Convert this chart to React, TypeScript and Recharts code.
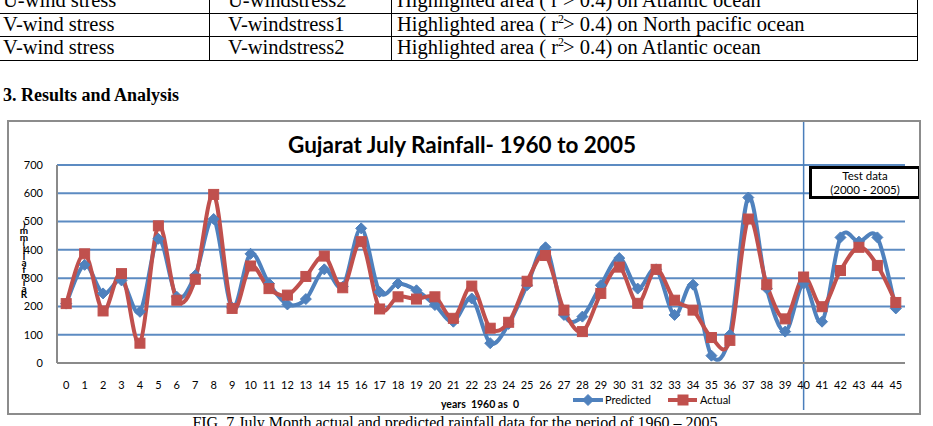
import React from "react";
import { LineChart, Line, XAxis, YAxis, CartesianGrid, ReferenceLine } from "recharts";

const years = [0, 1, 2, 3, 4, 5, 6, 7, 8, 9, 10, 11, 12, 13, 14, 15, 16, 17, 18, 19, 20, 21, 22, 23, 24, 25, 26, 27, 28, 29, 30, 31, 32, 33, 34, 35, 36, 37, 38, 39, 40, 41, 42, 43, 44, 45];
const predicted = [210, 347, 246, 292, 181, 439, 234, 310, 509, 195, 386, 281, 207, 226, 331, 270, 476, 251, 281, 257, 205, 146, 228, 70, 138, 275, 409, 170, 164, 275, 371, 263, 331, 170, 277, 26, 100, 585, 263, 111, 281, 146, 444, 429, 444, 193];
const actual = [210, 386, 184, 316, 70, 485, 222, 296, 596, 193, 343, 263, 240, 306, 378, 266, 429, 191, 234, 226, 234, 158, 272, 123, 144, 289, 380, 187, 111, 246, 339, 211, 331, 222, 187, 90, 80, 509, 277, 156, 304, 199, 327, 409, 345, 214];
const yTicks = [0, 100, 200, 300, 400, 500, 600, 700];
const seriesNames = ["Predicted", "Actual"];
const testYear = 40;

const tableRows = [
  ["U-wind stress", "U-windstress2", "Atlantic ocean"],
  ["V-wind stress", "V-windstress1", "North pacific ocean"],
  ["V-wind stress", "V-windstress2", "Atlantic ocean"],
];

const data = years.map((y, i) => ({ year: y, predicted: predicted[i], actual: actual[i] }));

const BLUE = "#4f81bd";
const RED = "#c0504d";
const GRID = "#4a7ebb";

// Excel-like smoothed line (Catmull-Rom through points)
function excelCurve(context: any) {
  let pts: number[][] = [];
  return {
    areaStart() {},
    areaEnd() {},
    lineStart() {
      pts = [];
    },
    point(x: number, y: number) {
      pts.push([+x, +y]);
    },
    lineEnd() {
      const n = pts.length;
      if (!n) return;
      context.moveTo(pts[0][0], pts[0][1]);
      for (let i = 0; i < n - 1; i++) {
        const p0 = pts[i - 1] || pts[i];
        const p1 = pts[i];
        const p2 = pts[i + 1];
        const p3 = pts[i + 2] || p2;
        context.bezierCurveTo(
          p1[0] + (p2[0] - p0[0]) / 6,
          p1[1] + (p2[1] - p0[1]) / 6,
          p2[0] - (p3[0] - p1[0]) / 6,
          p2[1] - (p3[1] - p1[1]) / 6,
          p2[0],
          p2[1]
        );
      }
    },
  };
}

const Diamond = (props: any) => {
  const { cx, cy } = props;
  if (cx == null || cy == null) return null;
  const s = 5.5;
  return <path d={`M${cx},${cy - s}L${cx + s},${cy}L${cx},${cy + s}L${cx - s},${cy}Z`} fill={BLUE} stroke={BLUE} strokeWidth={1} />;
};

const Square = (props: any) => {
  const { cx, cy } = props;
  if (cx == null || cy == null) return null;
  const s = 5;
  return <rect x={cx - s} y={cy - s} width={2 * s} height={2 * s} fill={RED} stroke={RED} strokeWidth={1} />;
};

const serif = "'Liberation Serif', 'DejaVu Serif', serif";
const sans = "Lato, 'Open Sans', 'Liberation Sans', sans-serif";

export default function App() {
  const ylabel = "Rainfall(mm)".split("").reverse();
  return (
    <div style={{ position: "absolute", left: 0, top: 0, width: 933, height: 426, overflow: "hidden", background: "#fff" }}>
      {/* table */}
      <div style={{ position: "absolute", left: 0, top: -11, width: 918, fontFamily: serif, fontSize: 20.5, color: "#000" }}>
        {tableRows.map((r, i) => (
          <div key={i} style={{ position: "absolute", left: 0, top: i * 23.5, width: 918, height: 23.5, borderBottom: "1px solid #000" }}>
            <div style={{ position: "absolute", left: 3, top: 0, whiteSpace: "nowrap" }}>{r[0]}</div>
            <div style={{ position: "absolute", left: 209, top: 0, height: 23.5, borderLeft: "1px solid #000" }} />
            <div style={{ position: "absolute", left: 228, top: 0, whiteSpace: "nowrap" }}>{r[1]}</div>
            <div style={{ position: "absolute", left: 391, top: 0, height: 23.5, borderLeft: "1px solid #000" }} />
            <div style={{ position: "absolute", left: 397, top: 0, whiteSpace: "nowrap" }}>
              Highlighted area ( r<span style={{ fontSize: 12, position: "relative", top: -8, marginRight: -1 }}>2</span>&gt; 0.4) on {r[2]}
            </div>
            <div style={{ position: "absolute", left: 917, top: 0, height: 23.5, borderLeft: "1px solid #000" }} />
          </div>
        ))}
      </div>
      {/* heading */}
      <div style={{ position: "absolute", left: 3, top: 85, fontFamily: serif, fontSize: 18, fontWeight: "bold", whiteSpace: "nowrap" }}>
        3. Results and Analysis
      </div>

      {/* chart */}
      <div style={{ position: "absolute", left: 7, top: 120, width: 914, height: 295 }}>
        <LineChart width={914} height={295} data={data} margin={{ top: 45, right: 16, left: 0, bottom: 22 }}>
          <CartesianGrid horizontal={true} vertical={false} stroke={GRID} strokeWidth={2} strokeOpacity={0.9} />
          <XAxis
            dataKey="year"
            type="category"
            interval={0}
            height={30}
            padding={{ left: 9.2, right: 9.2 }}
            tickLine={false}
            tickSize={0}
            tickMargin={18}
            axisLine={{ stroke: "#8a8a8a", strokeWidth: 2 }}
            tick={{ fontSize: 11, fill: "#000", fontFamily: sans }}
          />
          <YAxis
            domain={[0, 700]}
            ticks={yTicks}
            interval={0}
            width={50}
            tickLine={false}
            tickSize={0}
            tickMargin={14}
            axisLine={{ stroke: "#8a8a8a", strokeWidth: 2 }}
            tick={{ fontSize: 11, fill: "#000", fontFamily: sans }}
          />
          <ReferenceLine
            segment={[{ x: testYear, y: 859 }, { x: testYear, y: -166 }]}
            stroke={GRID}
            strokeWidth={1.5}
            ifOverflow="visible"
          />
          <Line
            dataKey="predicted"
            name={seriesNames[0]}
            type={excelCurve as any}
            stroke={BLUE}
            strokeWidth={4}
            dot={<Diamond />}
            activeDot={false}
            isAnimationActive={false}
          />
          <Line
            dataKey="actual"
            name={seriesNames[1]}
            type={excelCurve as any}
            stroke={RED}
            strokeWidth={4}
            dot={<Square />}
            activeDot={false}
            isAnimationActive={false}
          />
        </LineChart>
        {/* title */}
        <div style={{ position: "absolute", left: 0, width: 910, top: 11, textAlign: "center", fontFamily: sans, fontWeight: "bold", fontSize: 22.5, color: "#000" }}>
          Gujarat July Rainfall- 1960 to 2005
        </div>
        {/* y label stacked */}
        <div style={{ position: "absolute", left: 11, top: 101, width: 12, display: "flex", flexDirection: "column", alignItems: "center", fontFamily: sans, fontSize: 10, fontWeight: "bold", lineHeight: "6.4px" }}>
          {ylabel.map((c, i) => (
            <span key={i}>{c}</span>
          ))}
        </div>
        {/* x axis title */}
        <div style={{ position: "absolute", left: 380, width: 186, top: 278, textAlign: "center", fontFamily: sans, fontWeight: "bold", fontSize: 10.5, whiteSpace: "pre" }}>
          {"years  1960 as  0"}
        </div>
        {/* legend */}
        <svg style={{ position: "absolute", left: 560, top: 272 }} width={200} height={16}>
          <line x1={6} y1={8} x2={36} y2={8} stroke={BLUE} strokeWidth={4} />
          <Diamond cx={21} cy={8} />
          <text x={38} y={12} fontSize={11} fontFamily={sans} fill="#000">{seriesNames[0]}</text>
          <line x1={101} y1={8} x2={130} y2={8} stroke={RED} strokeWidth={4} />
          <Square cx={116} cy={8} />
          <text x={133} y={12} fontSize={11} fontFamily={sans} fill="#000">{seriesNames[1]}</text>
        </svg>
        {/* test data box */}
        <div style={{ position: "absolute", left: 802, top: 46, width: 112, height: 33, boxSizing: "border-box", border: "3px solid #000", background: "#fff", textAlign: "center", fontFamily: sans, fontSize: 11.5, lineHeight: "14px", paddingTop: 0 }}>
          Test data
          <br />
          (2000 - 2005)
        </div>
        {/* chart border */}
        <div style={{ position: "absolute", left: 0, top: 0, width: 914, height: 295, boxSizing: "border-box", border: "2px solid #8c8c8c", pointerEvents: "none" }} />
      </div>

      {/* caption */}
      <div style={{ position: "absolute", left: 0, width: 910, top: 414, textAlign: "center", fontFamily: serif, fontSize: 16, whiteSpace: "nowrap" }}>
        FIG. 7 July Month actual and predicted rainfall data for the period of 1960 – 2005
      </div>
    </div>
  );
}
